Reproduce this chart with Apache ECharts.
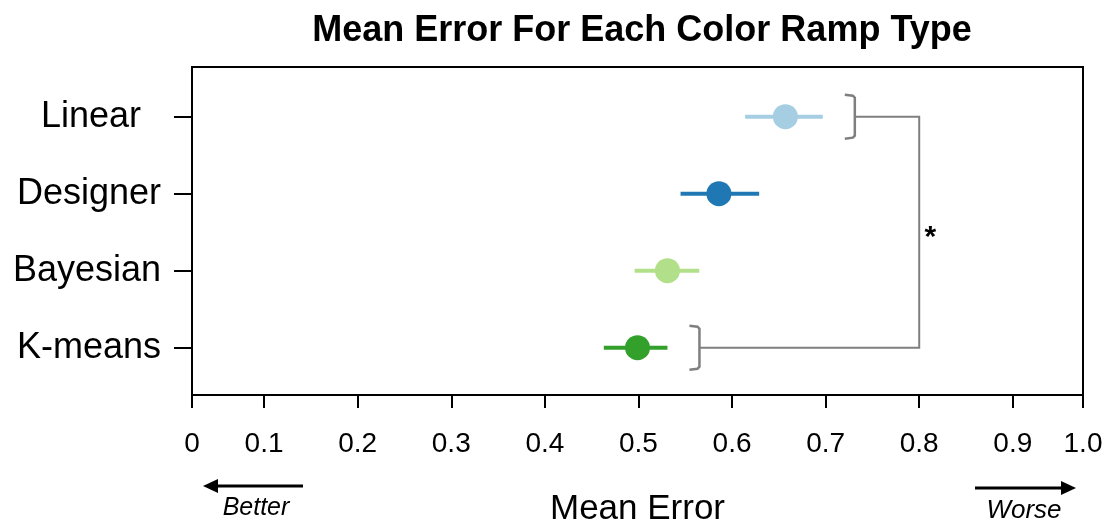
<!DOCTYPE html>
<html>
<head>
<meta charset="utf-8">
<script src="https://cdn.jsdelivr.net/npm/echarts@6/dist/echarts.min.js"></script>
<style>
  html, body { margin: 0; padding: 0; background: #fff; }
  #main { width: 1109px; height: 525px; }
</style>
</head>
<body>
<div id="main"></div>
<script>
// data
var categories = ['Linear  ', 'Designer', 'Bayesian', 'K-means'];
var means = [0.657, 0.586, 0.531, 0.499];
var lower = [0.614, 0.545, 0.496, 0.463];
var upper = [0.697, 0.629, 0.565, 0.531];
var colors = ['#a6cee3', '#1f78b4', '#b2df8a', '#33a02c'];
var xTicks = [0.1, 0.2, 0.3, 0.4, 0.5, 0.6, 0.7, 0.8, 0.9];
// significant pair (Linear vs K-means), connector at 0.8
var sigPairs = [[0, 3, 0.8, '*']];

var xMin = 0.023, xMax = 0.975;
var xEdgeTicks = [xMin].concat(xTicks, [xMax]);
var font = "'Liberation Sans', Arial, sans-serif";

var points = [];
for (var i = 0; i < categories.length; i++) {
    points.push([means[i], lower[i], upper[i], i]);
}

var myChart = echarts.init(document.getElementById('main'));

var option = {
    animation: false,
    title: {
        text: 'Mean Error For Each Color Ramp Type',
        left: 637,
        top: 8,
        textAlign: 'center',
        textStyle: { fontFamily: font, fontSize: 36, fontWeight: 'bold', color: '#000' }
    },
    grid: {
        left: 192, right: 26, top: 67, bottom: 130,
        outerBoundsMode: 'none',
        containLabel: false,
        show: true, borderColor: '#000', borderWidth: 2
    },
    xAxis: {
        type: 'value',
        min: xMin,
        max: xMax,
        name: 'Mean Error',
        nameLocation: 'middle',
        nameGap: 97,
        nameTextStyle: { fontFamily: font, fontSize: 35, color: '#000' },
        axisLine: { show: false, onZero: false },
        splitLine: { show: false },
        axisTick: {
            show: true, length: 13, customValues: xEdgeTicks,
            lineStyle: { color: '#000', width: 2 }
        },
        axisLabel: {
            customValues: xEdgeTicks,
            margin: 35,
            fontFamily: font, fontSize: 28, color: '#000',
            formatter: function (v) {
                if (v < 0.05) return '0';
                if (v > 0.95) return '1.0';
                return v.toFixed(1);
            }
        }
    },
    yAxis: {
        type: 'value',
        inverse: true,
        min: -0.645,
        max: 3.614,
        axisLine: { show: false, onZero: false },
        splitLine: { show: false },
        axisTick: {
            show: true, length: 18, customValues: [0, 1, 2, 3],
            lineStyle: { color: '#000', width: 2 }
        },
        axisLabel: {
            customValues: [0, 1, 2, 3],
            margin: 31,
            fontFamily: font, fontSize: 36, color: '#000',
            formatter: function (v) { return categories[v]; }
        }
    },
    series: [
        {
            type: 'custom',
            name: 'mean',
            data: points,
            encode: { x: [0, 1, 2], y: 3 },
            renderItem: function (params, api) {
                var idx = api.value(3);
                var p = api.coord([api.value(0), idx]);
                var lo = api.coord([api.value(1), idx]);
                var hi = api.coord([api.value(2), idx]);
                var c = colors[idx];
                return {
                    type: 'group',
                    children: [
                        { type: 'line', shape: { x1: lo[0], y1: lo[1], x2: hi[0], y2: hi[1] },
                          style: { stroke: c, lineWidth: 4 } },
                        { type: 'circle', shape: { cx: p[0], cy: p[1], r: 12.5 },
                          style: { fill: c } }
                    ]
                };
            }
        },
        {
            type: 'custom',
            name: 'sig',
            data: sigPairs,
            encode: { x: 2, y: [0, 1] },
            renderItem: function (params, api) {
                var a = api.value(0), b = api.value(1);
                var connX = api.coord([api.value(2), 0])[0];
                var gray = '#7f7f7f';
                var children = [];
                var nubs = [];
                [a, b].forEach(function (k) {
                    var end = api.coord([upper[k], k]);
                    var hx = end[0] + 22, bx = hx + 10, cy = end[1];
                    children.push({
                        type: 'polyline',
                        shape: { points: [
                            [hx, cy - 22], [bx - 2, cy - 21], [bx, cy - 19],
                            [bx, cy + 19], [bx - 2, cy + 21], [hx, cy + 22]
                        ] },
                        style: { stroke: gray, lineWidth: 2.5, fill: null }
                    });
                    nubs.push([bx, cy]);
                });
                children.push({
                    type: 'polyline',
                    shape: { points: [nubs[0], [connX, nubs[0][1]], [connX, nubs[1][1]], nubs[1]] },
                    style: { stroke: gray, lineWidth: 2, fill: null }
                });
                children.push({
                    type: 'text',
                    style: {
                        text: sigPairs[0][3], x: connX + 11, y: (nubs[0][1] + nubs[1][1]) / 2 + 6,
                        align: 'center', verticalAlign: 'middle',
                        font: 'bold 30px ' + font, fill: '#000'
                    }
                });
                return { type: 'group', children: children };
            }
        }
    ],
    graphic: [
        { type: 'line', shape: { x1: 303, y1: 486, x2: 212, y2: 486 },
          style: { stroke: '#000', lineWidth: 3 } },
        { type: 'polygon', shape: { points: [[203, 486], [218, 479], [218, 493]] },
          style: { fill: '#000' } },
        { type: 'text', x: 256, y: 508,
          style: { text: 'Better', font: 'italic 25px ' + font, fill: '#000', align: 'center', verticalAlign: 'middle' } },
        { type: 'line', shape: { x1: 975, y1: 488, x2: 1062, y2: 488 },
          style: { stroke: '#000', lineWidth: 3 } },
        { type: 'polygon', shape: { points: [[1076, 488], [1061, 481], [1061, 495]] },
          style: { fill: '#000' } },
        { type: 'text', x: 1024, y: 511,
          style: { text: 'Worse', font: 'italic 26px ' + font, fill: '#000', align: 'center', verticalAlign: 'middle' } }
    ]
};

myChart.setOption(option);
</script>
</body>
</html>
